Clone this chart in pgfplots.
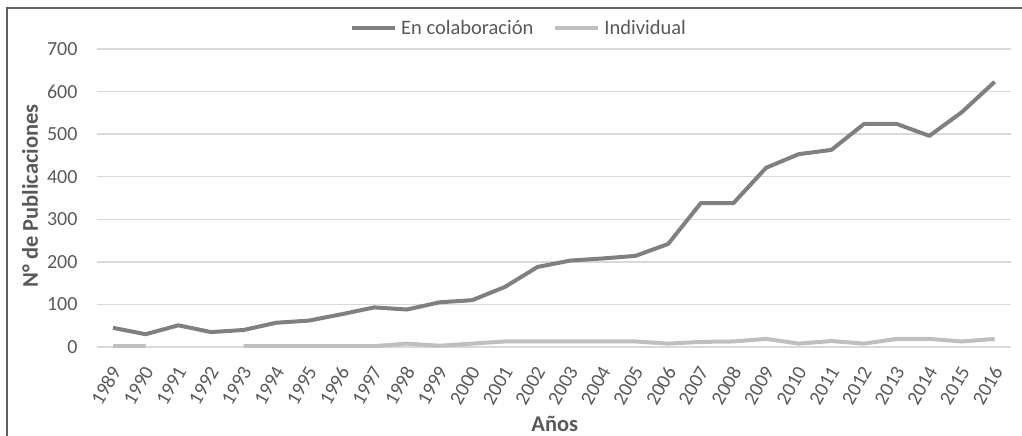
\documentclass[border=0pt]{standalone}
\usepackage{pgfplots}
\pgfplotsset{compat=1.18}
\usepackage{fontspec}
\setmainfont{Carlito}
\definecolor{colab}{HTML}{808080}
\definecolor{indiv}{HTML}{BFBFBF}
\definecolor{gridc}{HTML}{D9D9D9}
\definecolor{txt}{HTML}{595959}
\definecolor{bord}{HTML}{5F5F5F}
\begin{document}
\begin{tikzpicture}[x=1pt,y=1pt]
\useasboundingbox (0,0) rectangle (1022,436);
\begin{axis}[
  at={(96.7pt,89pt)}, anchor=south west,
  scale only axis, width=914.3pt, height=298pt,
  xmin=-0.5, xmax=27.5, ymin=0, ymax=700,
  ytick={0,100,...,700},
  xtick={0,...,27},
  xticklabels={1989,1990,1991,1992,1993,1994,1995,1996,1997,1998,1999,2000,2001,2002,2003,2004,2005,2006,2007,2008,2009,2010,2011,2012,2013,2014,2015,2016},
  axis line style={draw=none},
  major tick length=0pt,
  ymajorgrids, grid style={gridc, line width=1.5pt},
  /pgf/number format/assume math mode=true,
  tick label style={font=\fontsize{20}{24}\selectfont, text=txt},
  yticklabel style={anchor=east, inner sep=0pt, xshift=-19pt},
  xticklabel style={inner sep=0pt, xshift=3pt, yshift=-21pt, rotate=60, anchor=east},
  ylabel={N° de Publicaciones},
  xlabel={Años},
  label style={font=\bfseries\fontsize{22.5}{26}\selectfont, text=txt},
  ylabel style={at={(axis description cs:-0.073,0.507)}, anchor=center, rotate=0},
  xlabel style={at={(axis description cs:0.501,-0.259)}, anchor=center, inner sep=0pt},
  unbounded coords=jump,
  legend columns=2,
  legend style={at={(0.4608,1.070)}, anchor=center, draw=none, fill=none,
    font=\fontsize{20.5}{24}\selectfont, text=txt, inner sep=0pt,
    nodes={inner sep=0pt},
    /tikz/every odd column/.style={column sep=4pt},
    /tikz/every even column/.style={column sep=20pt}},
  legend cell align=left,
  legend image code/.code={\draw[#1] (0pt,0pt) -- (43pt,0pt);},
]
\addplot[colab, line width=4pt, line join=round] coordinates {
(0,45) (1,30) (2,51) (3,35) (4,40) (5,57) (6,62) (7,77) (8,93) (9,88)
(10,105) (11,110) (12,141) (13,188) (14,203) (15,208) (16,214) (17,242)
(18,338) (19,338) (20,421) (21,453) (22,463) (23,524) (24,524) (25,496)
(26,552) (27,623)};
\addlegendentry{En colaboración}
\addplot[indiv, line width=4pt, line join=round] coordinates {
(0,2) (1,2) (2,nan) (3,nan) (4,2) (5,2) (6,2) (7,2) (8,2) (9,8)
(10,3) (11,8) (12,13) (13,13) (14,13) (15,13) (16,13) (17,8)
(18,12) (19,13) (20,19) (21,8) (22,14) (23,8) (24,19) (25,19)
(26,13) (27,19)};
\addlegendentry{Individual}
\end{axis}
\draw[bord, line width=2pt] (7.3,0) -- (7.3,427.7) -- (1022,427.7);
\end{tikzpicture}
\end{document}
